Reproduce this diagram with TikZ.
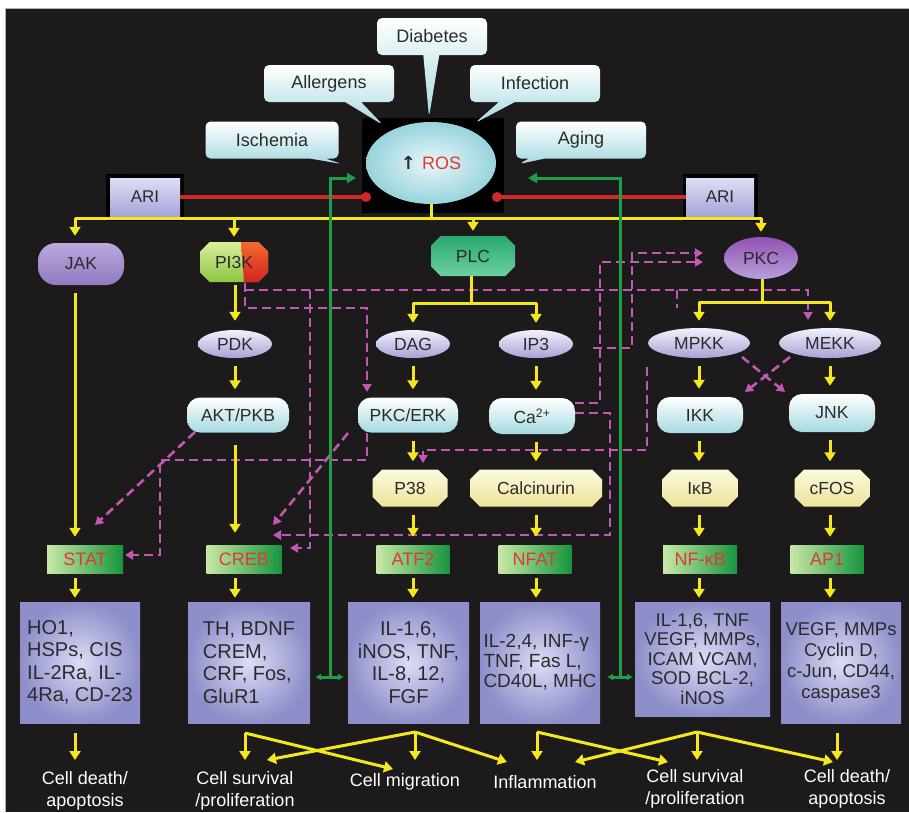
\documentclass[tikz,border=0pt]{standalone}
\usepackage{fontspec}
\setmainfont{Liberation Sans}
\newfontfamily\djv{DejaVu Sans}
\usetikzlibrary{shapes.geometric,shapes.misc,shapes.callouts,arrows.meta,calc}
\definecolor{bgc}{HTML}{1C1A1A}
\definecolor{yel}{HTML}{F4E71D}
\definecolor{mag}{HTML}{C257B4}
\definecolor{grn}{HTML}{1E9E48}
\definecolor{redl}{HTML}{D0282A}
\definecolor{txt}{HTML}{2B2B2B}
\definecolor{tfred}{HTML}{E5382C}
\definecolor{cyl}{HTML}{A4D9E1}
\definecolor{lav}{HTML}{A8A2D6}
\definecolor{lavl}{HTML}{F2F1FC}
\definecolor{ylo}{HTML}{EDE39A}
\definecolor{ylol}{HTML}{FCFADF}
\definecolor{tfl}{HTML}{C8E8A6}
\definecolor{tfd}{HTML}{15953E}
\definecolor{boxl}{HTML}{DCDCF6}
\definecolor{boxd}{HTML}{8E8ECA}
\definecolor{pgrt}{HTML}{D8EF9E}
\definecolor{pgrb}{HTML}{8CC63F}
\definecolor{predt}{HTML}{F06A30}
\definecolor{predb}{HTML}{D42222}
\definecolor{rosin}{HTML}{E8F7F9}
\definecolor{rosout}{HTML}{98D3DC}
\definecolor{arit}{HTML}{DEDEF6}
\definecolor{arib}{HTML}{A4A4DA}
\definecolor{jakt}{HTML}{BBA8DF}
\definecolor{jakb}{HTML}{9079BF}
\definecolor{plct}{HTML}{2AA86C}
\definecolor{plcb}{HTML}{6CD0A0}
\definecolor{pkct}{HTML}{9352B4}
\definecolor{pkcb}{HTML}{B7A0DA}
\begin{document}
\begin{tikzpicture}[x=1pt,y=-1pt,
  base/.style={inner sep=0pt, text=txt, font=\fontsize{17.5}{20}\selectfont, align=center},
  call/.style={base, font=\fontsize{18}{20}\selectfont, rectangle callout, rounded corners=5pt, top color=white, bottom color=cyl, minimum height=37pt, callout pointer width=16pt},
  ell/.style={base, ellipse, top color=lavl, bottom color=lav, minimum width=74pt, minimum height=28pt},
  rbox/.style={base, rectangle, rounded corners=13pt, top color=white, bottom color=cyl, minimum width=86pt, minimum height=36pt},
  oct/.style={base, chamfered rectangle, chamfered rectangle xsep=8pt, top color=ylol, bottom color=ylo, minimum width=75pt, minimum height=37pt},
  tf/.style={base, rectangle, left color=tfl, right color=tfd, text=tfred, font=\fontsize{18}{20}\selectfont, minimum width=74pt, minimum height=28pt},
  obox/.style={base, rectangle, inner color=boxl, outer color=boxd, minimum width=120pt, minimum height=121pt, font=\fontsize{20}{22.5}\selectfont},
  lab/.style={inner sep=0pt, text=white, align=center, font=\fontsize{18}{22}\selectfont},
  yl/.style={draw=yel, line width=3pt, line join=round},
  ya/.style={yl, -{Triangle[length=9pt,width=11pt]}},
  sh/.style={shorten <=8pt, shorten >=8pt},
  shb/.style={shorten <=5pt, shorten >=4pt},
  ml/.style={draw=mag, line width=2.6pt, dash pattern=on 9pt off 5pt},
  ma/.style={ml, -{Triangle[length=8pt,width=9pt]}},
  gl/.style={draw=grn, line width=3pt},
  ga/.style={gl, -{Triangle[length=9pt,width=10pt]}},
  gt/.style={gl, {Latex[length=6pt,width=7pt]}-{Latex[length=6pt,width=7pt]}},
  rl/.style={draw=redl, line width=4pt},
]
\useasboundingbox (0,0) rectangle (909,812);
% background
\fill[white] (0,0) rectangle (909,812);
\fill[bgc] (5,9) rectangle (909,812);
\draw[gray!60, line width=1pt] (5,812) -- (5,8.5) -- (909,8.5);
\fill[black] (362,118) rectangle (504,213);
\fill[black] (106,174) rectangle (184,221);
\fill[black] (683,174) rectangle (758,221);

% callouts
\node[call, minimum width=110pt, callout absolute pointer={(429,117)}] (diab) at (432,36.5) {Diabetes};
\node[call, minimum width=130pt, callout absolute pointer={(383,125)}] (allg) at (329,83.5) {Allergens};
\node[call, minimum width=130pt, callout absolute pointer={(475,123)}] (infe) at (535,83.5) {Infection};
\node[call, minimum width=133pt, callout absolute pointer={(342,164)}] (isch) at (272,140) {Ischemia};
\node[call, minimum width=130pt, callout absolute pointer={(519,164)}] (agin) at (581,140) {Aging};

% ROS
\node[base, ellipse, minimum width=130pt, minimum height=82pt, inner color=rosin, outer color=rosout, font=\fontsize{18}{20}\selectfont] (ros) at (431,163) {{\djv\bfseries ↑}\hspace{6pt}\textcolor{tfred}{ROS}};

% ARI
\node[base, minimum width=70pt, minimum height=38pt, top color=arit, bottom color=arib, font=\fontsize{17}{19}\selectfont] (ariL) at (145,197) {ARI};
\node[base, minimum width=68pt, minimum height=38pt, top color=arit, bottom color=arib, font=\fontsize{17}{19}\selectfont] (ariR) at (720,197) {ARI};
\node[circle, fill=redl, minimum size=10pt, inner sep=0pt] (dotL) at (366,197) {};
\node[circle, fill=redl, minimum size=10pt, inner sep=0pt] (dotR) at (497,197) {};
\draw[rl] (ariL.east) -- (dotL.center);
\draw[rl] (ariR.west) -- (dotR.center);

% row 2
\node[base, rectangle, rounded corners=18pt, minimum width=86pt, minimum height=42pt, top color=jakt, bottom color=jakb] (JAK) at (81,264) {JAK};
\node[base, chamfered rectangle, chamfered rectangle xsep=8pt, minimum width=68pt, minimum height=40pt, top color=pgrt, bottom color=pgrb,
  path picture={\shade[top color=predt, bottom color=predb] ($(path picture bounding box.north)+(7,0)$) -- (path picture bounding box.north east) -- (path picture bounding box.south east) -- ($(path picture bounding box.south)+(10,0)$) -- cycle;}] (PI3K) at (234,262) {PI3K};
\node[base, chamfered rectangle, chamfered rectangle xsep=8pt, minimum width=84pt, minimum height=40pt, top color=plct, bottom color=plcb] (PLC) at (473,256) {PLC};
\node[base, ellipse, minimum width=74pt, minimum height=42pt, top color=pkct, bottom color=pkcb] (PKC) at (761,258) {PKC};

% row 3
\node[ell] (PDK) at (235,344) {PDK};
\node[ell] (DAG) at (413,344) {DAG};
\node[ell] (IP3) at (536,344) {IP3};
\node[ell, minimum width=102pt, minimum height=30pt] (MPKK) at (699,343) {MPKK};
\node[ell, minimum width=102pt, minimum height=30pt] (MEKK) at (830,343) {MEKK};

% row 4
\node[rbox, minimum width=102pt, minimum height=35pt] (AKT) at (238,415) {AKT/PKB};
\node[rbox, minimum width=100pt, minimum height=35pt] (PKCERK) at (408,415) {PKC/ERK};
\node[rbox] (Ca) at (532,416) {Ca\textsuperscript{2+}};
\node[rbox] (IKK) at (700,415) {IKK};
\node[rbox, minimum height=38pt] (JNK) at (832,413) {JNK};

% row 5
\node[oct] (P38) at (410,488) {P38};
\node[oct, minimum width=132pt] (Calc) at (536,488) {Calcinurin};
\node[oct] (IkB) at (700,488) {IκB};
\node[oct] (cFOS) at (832,488) {cFOS};

% row 6
\node[tf, minimum width=76pt] (STAT) at (85,559) {STAT};
\node[tf, minimum width=75pt] (CREB) at (244,559) {CREB};
\node[tf, minimum width=73pt] (ATF2) at (413,559) {ATF2};
\node[tf, minimum width=73pt] (NFAT) at (535,559) {NFAT};
\node[tf] (NFkB) at (700,559) {NF-κB};
\node[tf, minimum width=73pt] (AP1) at (827,559) {AP1};

% row 7
\node[obox, align=left] (B1) at (80,662.5) {HO1,\\HSPs, CIS\\IL-2Ra, IL-\\4Ra, CD-23};
\node[obox, align=left, minimum width=122pt] (B2) at (249,662.5) {TH, BDNF\\CREM,\\CRF, Fos,\\GluR1};
\node[obox, minimum width=121pt] (B3) at (408.5,662.5) {IL-1,6,\\iNOS, TNF,\\IL-8, 12,\\FGF};
\node[obox, align=left, font=\fontsize{19}{20}\selectfont] (B4) at (540,662.5) {IL-2,4, INF-γ\\TNF, Fas L,\\CD40L, MHC};
\node[obox, minimum width=135pt, minimum height=114pt, font=\fontsize{18.5}{19.5}\selectfont] (B5) at (702.5,659) {IL-1,6, TNF\\VEGF, MMPs,\\ICAM VCAM,\\SOD BCL-2,\\iNOS};
\node[obox, font=\fontsize{18.5}{21}\selectfont] (B6) at (841,662.5) {VEGF, MMPs\\Cyclin D,\\c-Jun, CD44,\\caspase3};

% bottom labels
\node[lab] (L1) at (85,791) {Cell death/\\apoptosis};
\node[lab] (L2) at (245,791) {Cell survival\\/proliferation};
\node[lab] (L3) at (405,782) {Cell migration};
\node[lab] (L4) at (545,782) {Inflammation};
\node[lab] (L5) at (695,789) {Cell survival\\/proliferation};
\node[lab] (L6) at (847,789) {Cell death/\\apoptosis};

% magenta dashed connectors
\coordinate (mPa) at (245,283);
\coordinate (m1a) at (245,290);
\coordinate (m1e) at (808,320);
\draw[ma] (m1a) -- (808,290) -- (m1e);
\coordinate (m2e) at (367,392);
\draw[ma] (mPa) -- (245,308) -- (367,308) -- (m2e);
\coordinate (m3a) at (310,290);
\coordinate (m3e) at (290,548);
\draw[ma] (m3a) -- (310,548) -- (m3e);
\coordinate (m4a) at (195,432);
\coordinate (m4e) at (95,525);
\draw[ma] (m4a) -- (m4e);
\coordinate (m5a) at (367,433);
\coordinate (m5e) at (125,555);
\draw[ma] (m5a) -- (367,460) -- (160,460) -- (160,555) -- (m5e);
\coordinate (m6a) at (348,433);
\coordinate (m6e) at (273,525);
\draw[ma] (m6a) -- (m6e);
\coordinate (m7a) at (575,413);
\coordinate (m7e) at (273,535);
\draw[ma] (m7a) -- (610,413) -- (610,535) -- (m7e);
\coordinate (m8a) at (647,367);
\coordinate (m8e) at (423,463);
\draw[ma] (m8a) -- (647,450) -- (423,450) -- (m8e);
\coordinate (m9a) at (575,403);
\coordinate (m9e) at (703,262);
\draw[ma] (m9a) -- (600,403) -- (600,262) -- (m9e);
\coordinate (m10a) at (593,348);
\coordinate (m10e) at (703,253);
\draw[ma] (m10a) -- (632,348) -- (632,253) -- (m10e);
\coordinate (m11a) at (677,290);
\coordinate (m11e) at (677,308);
\draw[ml] (m11a) -- (m11e);
\coordinate (m12a) at (742,357);
\coordinate (m12e) at (785,392);
\draw[ma] (m12a) -- (m12e);
\coordinate (m13a) at (790,357);
\coordinate (m13e) at (745,392);
\draw[ma] (m13a) -- (m13e);

% yellow connectors
\coordinate (busL) at (75,218);
\coordinate (busR) at (762,218);
\coordinate (busM) at (431,218);
\draw[yl] (ros.south) -- (busM);
\draw[yl] (busL) -- (busR);
\draw[ya, shorten >=7pt] (busL) -- (busL |- JAK.north);
\draw[ya, shorten >=5pt] (PI3K.north |- busL) -- (PI3K.north);
\draw[ya, shorten >=5pt] (PLC.north |- busL) -- (PLC.north);
\draw[ya, shorten >=5pt] (PKC.north |- busL) -- (PKC.north);

\draw[ya, sh] (JAK.south -| busL) -- (busL |- STAT.north);
\draw[ya, shb] (STAT.south -| busL) -- (busL |- B1.north);

\draw[ya, shorten <=3pt, shorten >=9pt] (PI3K.south -| PDK.north) -- (PDK.north);
\draw[ya, sh] (PDK.south) -- (PDK.south |- AKT.north);
\draw[ya, shorten <=12pt, shorten >=12pt] (AKT.south -| PDK.south) -- (PDK.south |- CREB.north);
\draw[ya, shb] (CREB.south -| PDK.south) -- (PDK.south |- B2.north);

\coordinate (plcB) at (471,303);
\draw[yl] (PLC.south -| plcB) -- (plcB);
\draw[ya, shorten >=7pt] (plcB) -| (DAG.north);
\draw[ya, shorten >=7pt] (plcB) -| (IP3.north);
\draw[ya, sh] (DAG.south) -- (DAG.south |- PKCERK.north);
\draw[ya, sh] (PKCERK.south -| DAG.south) -- (DAG.south |- P38.north);
\draw[ya, sh] (P38.south -| DAG.south) -- (DAG.south |- ATF2.north);
\draw[ya, shb] (ATF2.south -| DAG.south) -- (DAG.south |- B3.north);
\draw[ya, sh] (IP3.south) -- (IP3.south |- Ca.north);
\draw[ya, sh] (Ca.south -| IP3.south) -- (IP3.south |- Calc.north);
\draw[ya, sh] (Calc.south -| IP3.south) -- (IP3.south |- NFAT.north);
\draw[ya, shb] (NFAT.south -| IP3.south) -- (IP3.south |- B4.north);

\coordinate (pkcB) at (762,302);
\draw[yl] (PKC.south -| pkcB) -- (pkcB);
\draw[ya, shorten >=7pt] (pkcB) -| (MPKK.north);
\draw[ya, shorten >=7pt] (pkcB) -| (MEKK.north);
\draw[ya, sh] (MPKK.south) -- (MPKK.south |- IKK.north);
\draw[ya, sh] (IKK.south -| MPKK.south) -- (MPKK.south |- IkB.north);
\draw[ya, sh] (IkB.south -| MPKK.south) -- (MPKK.south |- NFkB.north);
\draw[ya, shb] (NFkB.south -| MPKK.south) -- (MPKK.south |- B5.north);
\draw[ya, sh] (MEKK.south) -- (MEKK.south |- JNK.north);
\draw[ya, sh] (JNK.south -| MEKK.south) -- (MEKK.south |- cFOS.north);
\draw[ya, sh] (cFOS.south -| MEKK.south) -- (MEKK.south |- AP1.north);
\draw[ya, shb] (AP1.south -| MEKK.south) -- (MEKK.south |- B6.north);

% bottom outcome arrows
\coordinate (o1) at (75,733); \coordinate (t1) at (75,760);
\draw[ya] (o1) -- (t1);
\coordinate (o2) at (245,733); \coordinate (t2a) at (245,760); \coordinate (t2b) at (393,769);
\draw[ya] (o2) -- (t2a);
\draw[ya] (o2) -- (t2b);
\coordinate (o3) at (415,732); \coordinate (t3a) at (415,760); \coordinate (t3b) at (267,760); \coordinate (t3c) at (507,762);
\draw[ya] (o3) -- (t3a);
\draw[ya] (o3) -- (t3b);
\draw[ya] (o3) -- (t3c);
\coordinate (o4) at (537,732); \coordinate (t4a) at (537,760); \coordinate (t4b) at (668,762);
\draw[ya] (o4) -- (t4a);
\draw[ya] (o4) -- (t4b);
\coordinate (o5) at (697,732); \coordinate (t5a) at (697,760); \coordinate (t5b) at (575,762); \coordinate (t5c) at (833,762);
\draw[ya] (o5) -- (t5a);
\draw[ya] (o5) -- (t5b);
\draw[ya] (o5) -- (t5c);
\coordinate (o6) at (837,733); \coordinate (t6) at (837,760);
\draw[ya] (o6) -- (t6);

% green feedback connectors
\coordinate (gLb) at (330,677); \coordinate (gLt) at (356,178);
\draw[ga] (gLb) |- (gLt);
\coordinate (gLl) at (315,677); \coordinate (gLr) at (344,677);
\draw[gt] (gLl) -- (gLr);
\coordinate (gRb) at (620,677); \coordinate (gRt) at (528,178);
\draw[ga] (gRb) |- (gRt);
\coordinate (gRl) at (607,677); \coordinate (gRr) at (633,677);
\draw[gt] (gRl) -- (gRr);
\end{tikzpicture}
\end{document}
